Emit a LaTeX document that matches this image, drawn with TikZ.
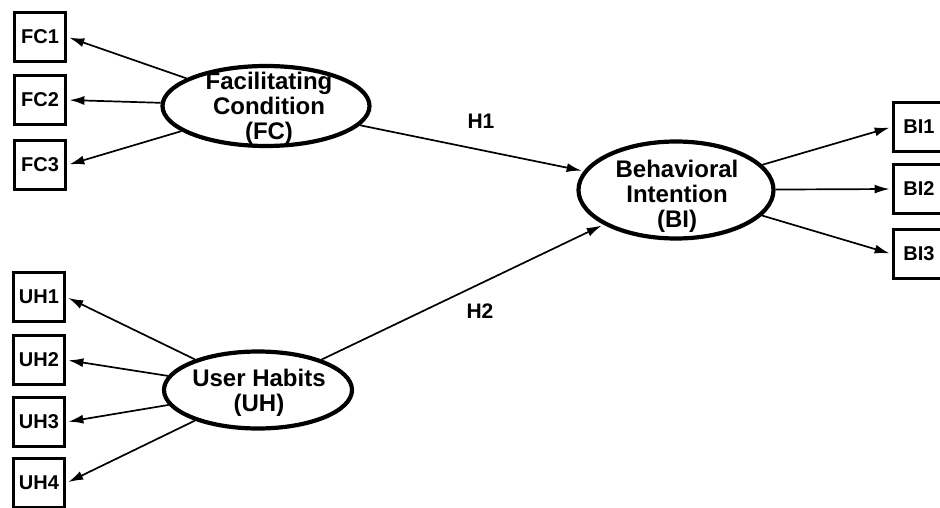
\documentclass[tikz,border=0pt]{standalone}
\usepackage{fontspec}
\setmainfont{Liberation Sans}
\usetikzlibrary{shapes.geometric,arrows.meta}
\begin{document}
\begin{tikzpicture}[x=1pt,y=-1pt,
  latent/.style={ellipse,draw,line width=4.2pt,inner sep=0pt},
  ltext/.style={align=center,inner sep=0pt,font=\fontsize{24}{25}\selectfont\bfseries},
  indic/.style={rectangle,draw,line width=3.8pt,minimum width=51pt,minimum height=49pt,
    inner sep=0pt,font=\fontsize{20}{22}\selectfont\bfseries},
  arr/.style={line width=1.7pt,-{Latex[length=15pt,width=9pt]},shorten >=2pt},
  hlab/.style={font=\fontsize{21}{24}\selectfont\bfseries}]
\useasboundingbox (0,0) rectangle (940,508);
\begin{scope}
\clip (0,0) rectangle (940,508);
\node[latent,minimum width=207pt,minimum height=80pt] (FC) at (266,106) {};
\node[latent,minimum width=188pt,minimum height=77pt] (UH) at (258,390) {};
\node[latent,minimum width=195pt,minimum height=97pt] (BI) at (676,190) {};
\node[ltext] (FCt) at (269,108) {Facilitating\\Condition\\(FC)};
\node[ltext] (UHt) at (259,393) {User Habits\\(UH)};
\node[ltext] (BIt) at (677,196) {Behavioral\\Intention\\(BI)};
\node[indic] (FC1) at (40,37) {FC1};
\node[indic] (FC2) at (40,100) {FC2};
\node[indic] (FC3) at (40,165) {FC3};
\node[indic] (UH1) at (39,297) {UH1};
\node[indic] (UH2) at (39,360) {UH2};
\node[indic] (UH3) at (39,422) {UH3};
\node[indic] (UH4) at (39,483) {UH4};
\node[indic] (BI1) at (919,127) {BI1};
\node[indic] (BI2) at (919,189) {BI2};
\node[indic] (BI3) at (919,254) {BI3};
\foreach \t in {FC1,FC2,FC3} \draw[arr] (FC) -- (\t.east);
\foreach \t in {UH1,UH2,UH3,UH4} \draw[arr] (UH) -- (\t.east);
\foreach \t in {BI1,BI2,BI3} \draw[arr] (BI) -- (\t.west);
\draw[arr] (FC) -- (BI);
\draw[arr] (UH) -- (BI);
\node[hlab] (H1) at (481,121) {H1};
\node[hlab] (H2) at (480,311) {H2};
\end{scope}
\end{tikzpicture}
\end{document}
